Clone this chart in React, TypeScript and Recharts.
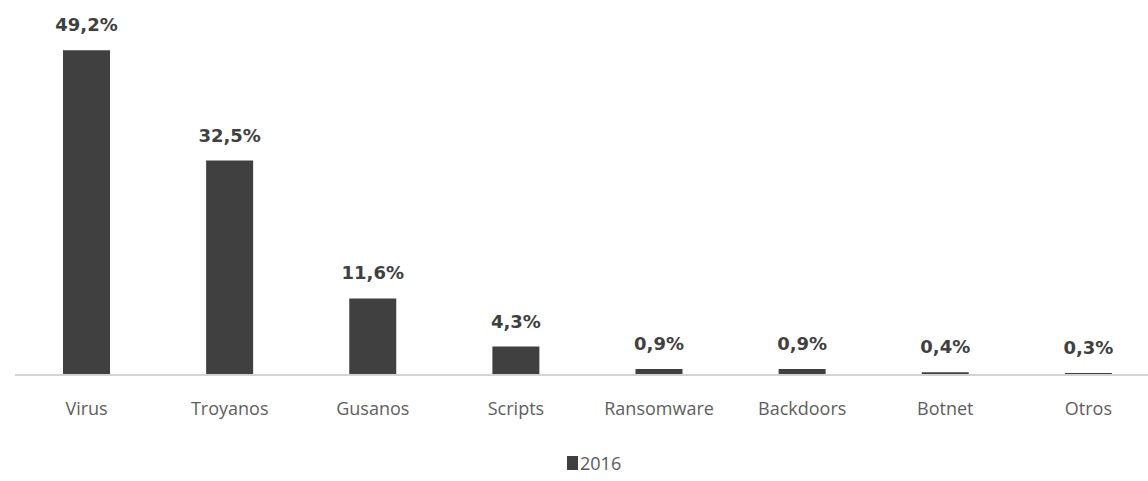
import React from "react";
import { BarChart, Bar, XAxis, YAxis, Legend, LabelList } from "recharts";

const categories = ["Virus", "Troyanos", "Gusanos", "Scripts", "Ransomware", "Backdoors", "Botnet", "Otros"];
const values2016 = [49.2, 32.5, 11.6, 4.3, 0.9, 0.9, 0.4, 0.3];

const data = categories.map((name, i) => ({ name, y2016: values2016[i] }));

const BAR = "#404040";

const fmt = (v: any) => `${Number(v).toFixed(1).replace(".", ",")}%`;

function LegendBox() {
  return (
    <div style={{ display: "flex", alignItems: "center", fontFamily: "'Open Sans', sans-serif", fontSize: 18, color: "#595959", height: 24 }}>
      <span style={{ display: "inline-block", width: 11, height: 14, background: BAR, marginRight: 2 }} />
      <span>2016</span>
    </div>
  );
}

export default function App() {
  return (
    <div style={{ position: "fixed", left: 0, top: 0, width: 1148, height: 481, overflow: "hidden", background: "#fff" }}>
      <BarChart
        width={1160}
        height={481}
        data={data}
        margin={{ top: 45, right: 0, left: 15, bottom: 6 }}
        barSize={47}
      >
        <XAxis
          dataKey="name"
          height={76}
          tickLine={false}
          tickSize={0}
          tickMargin={27}
          axisLine={{ stroke: "#d4d4d4", strokeWidth: 2 }}
          tick={{ fill: "#5e5e5e", fontSize: 18, fontFamily: "'Open Sans', sans-serif" }}
          interval={0}
        />
        <YAxis hide domain={[0, 50]} />
        <Legend
          verticalAlign="bottom"
          content={() => <LegendBox />}
          wrapperStyle={{ left: 567, width: 80, height: 24 }}
        />
        <Bar dataKey="y2016" name="2016" fill={BAR} isAnimationActive={false}>
          <LabelList
            dataKey="y2016"
            position="top"
            offset={19}
            formatter={fmt}
            style={{ fill: "#404040", fontSize: 18, fontWeight: "bold", fontFamily: "'DejaVu Sans', sans-serif" }}
          />
        </Bar>
      </BarChart>
    </div>
  );
}
